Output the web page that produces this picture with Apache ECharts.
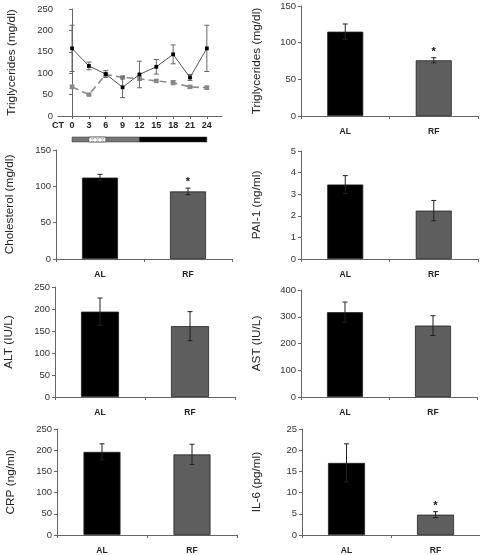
<!DOCTYPE html>
<html><head><meta charset="utf-8">
<script src="https://cdn.jsdelivr.net/npm/echarts@6/dist/echarts.min.js"></script>
<style>html,body{margin:0;padding:0;background:#fff}#c{width:480px;height:555px}</style>
</head><body><div id="c"></div>
<script>
// ---------- data ----------
const ctHours = [0, 3, 6, 9, 12, 15, 18, 21, 24];
const tgLineAL = [158, 117, 98, 67, 97, 115, 144, 90, 158];
const tgLineALErr = [54, 9, 8, 24, 31, 17, 22, 7, 54];
const tgLineRF = [68, 50, 97, 90, 87, 82, 78, 68, 66];
const tgLineRFErr = [4, 2, 4, 3, 4, 3, 5, 3, 4];
const timeBlocks = [[0, 12, 'light'], [12, 24, 'dark'], [3, 6, 'hatch']];

const groups = ['AL', 'RF'];
const tgMean = [115, 76], tgErr = [10.5, 3.5], tgSig = [0, 1];
const cholMean = [112, 93], cholErr = [4.5, 4.5], cholSig = [0, 1];
const paiMean = [3.45, 2.24], paiErr = [0.41, 0.47], paiSig = [0, 0];
const altMean = [194, 161], altErr = [31, 33], altSig = [0, 0];
const astMean = [317, 267], astErr = [38, 37], astSig = [0, 0];
const crpMean = [196, 190], crpErr = [19, 24], crpSig = [0, 0];
const il6Mean = [17.0, 4.8], il6Err = [4.5, 0.7], il6Sig = [0, 1];

// ---------- chart ----------
const FONT = '"Liberation Sans", Arial, sans-serif';
const AXC = '#666';
const chart = echarts.init(document.getElementById('c'), null, {renderer: 'canvas'});

// dotted pattern for the hatched block
const pc = document.createElement('canvas');
pc.width = 5; pc.height = 5;
const pctx = pc.getContext('2d');
pctx.fillStyle = '#fff'; pctx.fillRect(0, 0, 5, 5);
pctx.strokeStyle = '#888'; pctx.lineWidth = 0.8;
pctx.beginPath(); pctx.arc(2.5, 2.5, 1.6, 0, Math.PI * 2); pctx.stroke();

const grids = [], xAxes = [], yAxes = [], series = [];

function yAxisBase(gi, max, interval, name, gap) {
  return {
    type: 'value', gridIndex: gi, min: 0, max: max, interval: interval,
    name: name, nameLocation: 'middle', nameGap: gap, nameRotate: 90,
    nameTextStyle: {fontFamily: FONT, fontSize: 11.8, color: '#222'},
    axisLine: {show: true, lineStyle: {color: AXC, width: 1}},
    axisTick: {show: true, length: 3, lineStyle: {color: AXC}},
    axisLabel: {fontFamily: FONT, fontSize: 9.5, color: '#333', margin: 5},
    splitLine: {show: false}
  };
}

function errRender(capW, color, width) {
  return function (params, api) {
    const x = api.value(0), m = api.value(1), e = api.value(2), sig = api.value(3);
    const top = api.coord([x, m + e]);
    const bot = api.coord([x, m - e]);
    const ch = [
      {type: 'line', shape: {x1: top[0], y1: top[1], x2: bot[0], y2: bot[1]}, style: {stroke: color, lineWidth: width}},
      {type: 'line', shape: {x1: top[0] - capW, y1: top[1], x2: top[0] + capW, y2: top[1]}, style: {stroke: color, lineWidth: width}},
      {type: 'line', shape: {x1: bot[0] - capW, y1: bot[1], x2: bot[0] + capW, y2: bot[1]}, style: {stroke: color, lineWidth: width}}
    ];
    if (sig) {
      ch.push({type: 'text', x: top[0], y: top[1] - 6,
        style: {text: '*', font: 'bold 11px ' + FONT, fill: '#111', align: 'center', verticalAlign: 'middle'}});
    }
    return {type: 'group', children: ch};
  };
}

// ---- panel 1: line chart ----
grids.push({left: 58, top: 9, width: 164, height: 107});
xAxes.push({
  type: 'value', gridIndex: 0, min: -2.5, max: 26.7,
  axisLine: {show: true, onZero: false, lineStyle: {color: AXC}},
  axisTick: {show: true, length: 3, customValues: ctHours, lineStyle: {color: AXC}},
  axisLabel: {fontFamily: FONT, fontSize: 9, fontWeight: 'bold', color: '#222', margin: 5,
    customValues: [-2.5].concat(ctHours), formatter: v => (v < 0 ? 'CT' : String(v))},
  splitLine: {show: false}
});
yAxes.push(yAxisBase(0, 250, 50, 'Triglycerides (mg/dl)', 40));

series.push({
  type: 'line', xAxisIndex: 0, yAxisIndex: 0, name: 'RF-line',
  data: ctHours.map((h, i) => [h, tgLineRF[i]]),
  symbol: 'rect', symbolSize: 4.5,
  itemStyle: {color: '#888'},
  lineStyle: {color: '#8a8a8a', width: 1.6, type: [7, 4]}, z: 2
});
series.push({
  type: 'custom', xAxisIndex: 0, yAxisIndex: 0,
  renderItem: errRender(2.5, '#888', 1),
  data: ctHours.map((h, i) => [h, tgLineRF[i], tgLineRFErr[i], 0]), z: 2
});
series.push({
  type: 'line', xAxisIndex: 0, yAxisIndex: 0, name: 'AL-line',
  data: ctHours.map((h, i) => [h, tgLineAL[i]]),
  symbol: 'rect', symbolSize: 3.8,
  itemStyle: {color: '#000'},
  lineStyle: {color: '#555', width: 1}, z: 3
});
series.push({
  type: 'custom', xAxisIndex: 0, yAxisIndex: 0,
  renderItem: errRender(2.5, '#666', 1),
  data: ctHours.map((h, i) => [h, tgLineAL[i], tgLineALErr[i], 0]), z: 3
});

// ---- time bar ----
grids.push({left: 58, top: 137, width: 164, height: 5});
xAxes.push({type: 'value', gridIndex: 1, min: -2.5, max: 26.7, show: false});
yAxes.push({type: 'value', gridIndex: 1, min: 0, max: 1, show: false});
series.push({
  type: 'custom', xAxisIndex: 1, yAxisIndex: 1,
  data: timeBlocks,
  renderItem: function (params, api) {
    const a = api.coord([api.value(0), 1]);
    const b = api.coord([api.value(1), 0]);
    const kind = timeBlocks[params.dataIndex][2];
    const fill = kind === 'light' ? '#777' : kind === 'dark' ? '#000' : {image: pc, repeat: 'repeat'};
    return {type: 'rect', shape: {x: a[0], y: a[1], width: b[0] - a[0], height: b[1] - a[1]},
      style: {fill: fill, stroke: '#333', lineWidth: 0.5}};
  }
});

// ---- bar panels ----
const panels = [
  {mean: tgMean, err: tgErr, sig: tgSig, max: 150, int: 50, name: 'Triglycerides (mg/dl)', grid: {left: 301, top: 6, width: 177, height: 110}, gap: 38, bw: 36},
  {mean: cholMean, err: cholErr, sig: cholSig, max: 150, int: 50, name: 'Cholesterol (mg/dl)', grid: {left: 56, top: 150, width: 176, height: 109}, gap: 40, bw: 36},
  {mean: paiMean, err: paiErr, sig: paiSig, max: 5, int: 1, name: 'PAI-1 (ng/ml)', grid: {left: 301, top: 151, width: 177, height: 108}, gap: 38, bw: 36},
  {mean: altMean, err: altErr, sig: altSig, max: 250, int: 50, name: 'ALT (IU/L)', grid: {left: 55, top: 287, width: 180, height: 110}, gap: 40, bw: 38},
  {mean: astMean, err: astErr, sig: astSig, max: 400, int: 100, name: 'AST (IU/L)', grid: {left: 301, top: 290, width: 176, height: 107}, gap: 38, bw: 36},
  {mean: crpMean, err: crpErr, sig: crpSig, max: 250, int: 50, name: 'CRP (ng/ml)', grid: {left: 57, top: 429, width: 180, height: 110}, gap: 40, bw: 37},
  {mean: il6Mean, err: il6Err, sig: il6Sig, max: 25, int: 5, name: 'IL-6 (pg/ml)', grid: {left: 302, top: 429, width: 178, height: 110}, gap: 39, bw: 37}
];
const barColors = ['#000000', '#5e5e5e'];

panels.forEach(p => {
  const gi = grids.length;
  grids.push(p.grid);
  xAxes.push({
    type: 'category', gridIndex: gi, data: groups, boundaryGap: true,
    axisLine: {show: true, lineStyle: {color: AXC}},
    axisTick: {show: true, length: 3, lineStyle: {color: AXC}},
    axisLabel: {fontFamily: FONT, fontSize: 8.5, fontWeight: 'bold', color: '#222', margin: 11}
  });
  yAxes.push(yAxisBase(gi, p.max, p.int, p.name, p.gap));
  series.push({
    type: 'bar', xAxisIndex: gi, yAxisIndex: gi, barWidth: p.bw,
    data: p.mean.map((v, i) => ({value: v, itemStyle: {color: barColors[i], borderColor: '#222', borderWidth: 0.8}})),
    z: 2
  });
  series.push({
    type: 'custom', xAxisIndex: gi, yAxisIndex: gi, z: 3,
    renderItem: errRender(2.5, '#222', 1),
    data: p.mean.map((v, i) => [i, v, p.err[i], p.sig[i]])
  });
});

chart.setOption({
  animation: false,
  backgroundColor: '#fff',
  grid: grids, xAxis: xAxes, yAxis: yAxes, series: series
});
</script>
</body></html>
